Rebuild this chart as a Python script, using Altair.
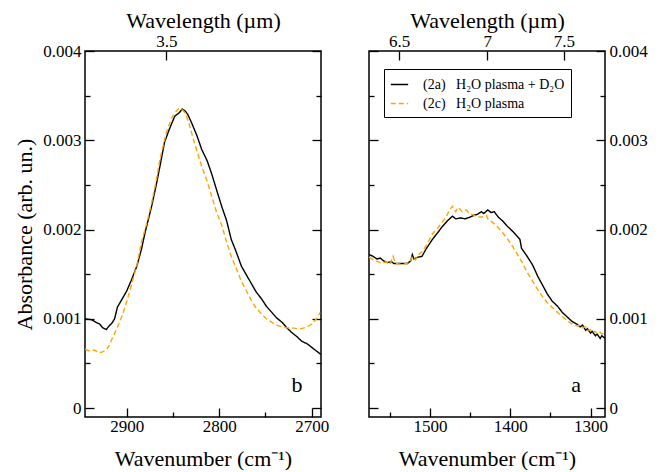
import altair as alt
import pandas as pd

FONT = "Liberation Serif"
SER_A = "(2a)\u00a0\u00a0\u00a0H\u2082O plasma + D\u2082O"
SER_C = "(2c)\u00a0\u00a0\u00a0H\u2082O plasma"

# ---- left panel (b) ----
left_wn_a = [2945, 2938, 2933, 2929, 2926, 2922, 2919, 2916, 2913, 2910, 2905, 2900, 2895, 2889,
             2884, 2880, 2873, 2868, 2864, 2859, 2854, 2848, 2843, 2840, 2837, 2834, 2830, 2824,
             2819, 2813, 2808, 2803, 2797, 2792, 2787, 2782, 2776, 2770, 2765, 2760, 2754, 2749,
             2743, 2738, 2732, 2727, 2722, 2716, 2711, 2705, 2700, 2695, 2690]
left_abs_a = [0.00100, 0.00099, 0.00096, 0.00094, 0.00090, 0.00088, 0.00092, 0.00095, 0.00100,
              0.00113, 0.00122, 0.00131, 0.00143, 0.00159, 0.00178, 0.00197, 0.00226, 0.00250,
              0.00271, 0.00298, 0.00312, 0.00327, 0.00331, 0.00335, 0.00333, 0.00329, 0.00320,
              0.00305, 0.00290, 0.00277, 0.00262, 0.00245, 0.00225, 0.00210, 0.00189, 0.00176,
              0.00159, 0.00148, 0.00139, 0.00130, 0.00122, 0.00114, 0.00107, 0.00101, 0.00096,
              0.00090, 0.00085, 0.00080, 0.00075, 0.00072, 0.00068, 0.00064, 0.00060]
left_wn_c = [2945, 2940, 2935, 2930, 2926, 2922, 2919, 2916, 2911, 2905, 2900, 2895, 2889, 2884,
             2878, 2873, 2868, 2864, 2857, 2851, 2846, 2843, 2840, 2837, 2833, 2827, 2819, 2813,
             2808, 2803, 2797, 2792, 2787, 2781, 2776, 2770, 2765, 2760, 2754, 2749, 2743, 2738,
             2732, 2727, 2722, 2716, 2711, 2705, 2700, 2695, 2691]
left_abs_c = [0.00066, 0.00064, 0.00065, 0.00062, 0.00063, 0.00065, 0.00070, 0.00077, 0.00088,
              0.00103, 0.00119, 0.00137, 0.00160, 0.00186, 0.00208, 0.00230, 0.00255, 0.00279,
              0.00309, 0.00326, 0.00333, 0.00336, 0.00334, 0.00331, 0.00320, 0.00298, 0.00271,
              0.00254, 0.00237, 0.00220, 0.00204, 0.00186, 0.00170, 0.00155, 0.00142, 0.00130,
              0.00120, 0.00112, 0.00105, 0.00100, 0.00096, 0.00093, 0.00091, 0.00090, 0.00090,
              0.00089, 0.00089, 0.00091, 0.00094, 0.00100, 0.00107]

# ---- right panel (a) ----
right_wn_a = [1576, 1571, 1566, 1562, 1558, 1553, 1548, 1545, 1541, 1528, 1524, 1522, 1520, 1515,
              1510, 1505, 1497, 1490, 1485, 1478, 1472, 1468, 1462, 1456, 1450, 1445, 1441, 1436,
              1433, 1428, 1424, 1420, 1415, 1410, 1404, 1397, 1392, 1388, 1386, 1379, 1372, 1366,
              1360, 1354, 1348, 1341, 1335, 1329, 1323, 1317, 1313, 1310, 1306, 1304, 1300, 1298,
              1294, 1292, 1288, 1286, 1282]
right_abs_a = [0.00172, 0.00170, 0.00167, 0.00168, 0.00165, 0.00163, 0.00164, 0.00162, 0.00162,
               0.00162, 0.00165, 0.00172, 0.00167, 0.00169, 0.00170, 0.00178, 0.00189, 0.00197,
               0.00203, 0.00210, 0.00215, 0.00212, 0.00213, 0.00212, 0.00214, 0.00216, 0.00217,
               0.00220, 0.00218, 0.00222, 0.00219, 0.00220, 0.00214, 0.00210, 0.00204, 0.00198,
               0.00193, 0.00189, 0.00179, 0.00170, 0.00160, 0.00148, 0.00138, 0.00128, 0.00120,
               0.00114, 0.00107, 0.00102, 0.00097, 0.00094, 0.00091, 0.00093, 0.00087, 0.00089,
               0.00084, 0.00086, 0.00081, 0.00083, 0.00078, 0.00081, 0.00078]
right_wn_c = [1576, 1570, 1565, 1560, 1555, 1550, 1546, 1543, 1534, 1525, 1522, 1518, 1514, 1510,
              1504, 1497, 1490, 1485, 1480, 1475, 1472, 1468, 1465, 1460, 1455, 1450, 1447, 1441,
              1435, 1430, 1428, 1422, 1416, 1410, 1404, 1397, 1391, 1385, 1379, 1372, 1366, 1360,
              1354, 1348, 1341, 1335, 1329, 1323, 1316, 1312, 1310, 1306, 1304, 1300, 1298, 1294,
              1292, 1288, 1286, 1282]
right_abs_c = [0.00169, 0.00166, 0.00164, 0.00162, 0.00164, 0.00161, 0.00170, 0.00162, 0.00161,
               0.00163, 0.00170, 0.00166, 0.00172, 0.00175, 0.00183, 0.00195, 0.00202, 0.00208,
               0.00214, 0.00223, 0.00226, 0.00220, 0.00225, 0.00220, 0.00222, 0.00217, 0.00217,
               0.00214, 0.00214, 0.00216, 0.00212, 0.00208, 0.00203, 0.00197, 0.00190, 0.00181,
               0.00172, 0.00163, 0.00152, 0.00142, 0.00133, 0.00125, 0.00118, 0.00113, 0.00107,
               0.00102, 0.00098, 0.00094, 0.00092, 0.00093, 0.00090, 0.00091, 0.00087, 0.00088,
               0.00085, 0.00086, 0.00083, 0.00085, 0.00083, 0.00084]

y_major = [0, 0.001, 0.002, 0.003, 0.004]
y_minor = [0.0005, 0.0015, 0.0025, 0.0035]
y_domain = [-0.0001, 0.004]
left_x_major = [2900, 2800, 2700]
left_x_minor = [2850, 2750]
right_x_major = [1500, 1400, 1300]
right_x_minor = [1550, 1450, 1350]
left_wl = [3.5]
right_wl = [6.5, 7.0, 7.5]
left_domain = [2690, 2945]
right_domain = [1282, 1576]
panel_tags = ["b", "a"]
tag_wn = [2716, 1318]
tag_abs = [0.00018, 0.00018]

W, H = 236, 366


def tsz(n):
    return alt.ExprRef(expr=str(-n))


def series_df(wa, ya, wc, yc):
    return pd.concat([
        pd.DataFrame({"wn": wa, "abs": ya, "series": SER_A}),
        pd.DataFrame({"wn": wc, "abs": yc, "series": SER_C}),
    ], ignore_index=True)


legend = alt.Legend(orient="none", legendX=299, legendY=18, title=None,
                    strokeColor="black", fillColor="white", padding=6, rowPadding=2,
                    labelFont=FONT, labelFontSize=14, labelColor="black", labelLimit=0,
                    symbolType="stroke", symbolSize=300, symbolStrokeWidth=1.5,
                    labelOffset=14)


def panel(df, dom, xmaj, xmin, wl, tag_x, tag_y, tag, left):
    xs = alt.Scale(domain=dom, reverse=True, nice=False, zero=False)
    ys = alt.Scale(domain=y_domain, nice=False, zero=False)
    side_main = "left" if left else "right"
    side_other = "right" if left else "left"
    wl_pos = [10000.0 / w for w in wl]
    base = alt.Chart(df)

    lines = base.mark_line(strokeWidth=1.4, clip=True).encode(
        x=alt.X("wn:Q", scale=xs, title="Wavenumber (cm\u207b\u00b9)",
                axis=alt.Axis(orient="bottom", values=xmaj, format="d", tickSize=tsz(9),
                              labelPadding=10, titlePadding=14)),
        y=alt.Y("abs:Q", scale=ys, title="Absorbance (arb. un.)" if left else None,
                axis=alt.Axis(orient=side_main, values=y_major, format=".3~f",
                              tickSize=tsz(9), labelPadding=13, titlePadding=6)),
        color=alt.Color("series:N", scale=alt.Scale(domain=[SER_A, SER_C], range=["black", "#FFA500"]),
                        legend=legend),
        strokeDash=alt.StrokeDash("series:N", scale=alt.Scale(domain=[SER_A, SER_C], range=[[1, 0], [5, 3]]),
                                  legend=legend),
    )
    minor = base.mark_line(opacity=0).encode(
        x=alt.X("wn:Q", scale=xs, title=None,
                axis=alt.Axis(orient="bottom", values=xmin, labels=False, tickSize=tsz(5))),
        y=alt.Y("abs:Q", scale=ys, title=None,
                axis=alt.Axis(orient=side_main, values=y_minor, labels=False, tickSize=tsz(5))),
    )
    top = base.mark_line(opacity=0).encode(
        x=alt.X("wn:Q", scale=xs, title="Wavelength (\u00b5m)",
                axis=alt.Axis(orient="top", values=wl_pos, tickSize=tsz(9), labelPadding=10,
                              labelExpr="format(10000/datum.value, '.2~g')", titlePadding=0)),
        y=alt.Y("abs:Q", scale=ys, title=None,
                axis=alt.Axis(orient=side_other, values=y_major, labels=False, tickSize=tsz(9))),
    )
    other_minor = base.mark_line(opacity=0).encode(
        x=alt.X("wn:Q", scale=xs, axis=None),
        y=alt.Y("abs:Q", scale=ys, title=None,
                axis=alt.Axis(orient=side_other, values=y_minor, labels=False, tickSize=tsz(5))),
    )
    tag_df = pd.DataFrame({"wn": [tag_x], "abs": [tag_y], "tag": [tag]})
    tag_layer = alt.Chart(tag_df).mark_text(font=FONT, fontSize=22, color="black",
                                            baseline="alphabetic", align="center").encode(
        x=alt.X("wn:Q", scale=xs, axis=None),
        y=alt.Y("abs:Q", scale=ys, axis=None),
        text="tag:N",
    )
    return alt.layer(lines, minor, top, other_minor, tag_layer).resolve_axis(
        x="independent", y="independent").properties(width=W, height=H)


left_panel = panel(series_df(left_wn_a, left_abs_a, left_wn_c, left_abs_c), left_domain,
                   left_x_major, left_x_minor, left_wl, tag_wn[0], tag_abs[0], panel_tags[0], True)
right_panel = panel(series_df(right_wn_a, right_abs_a, right_wn_c, right_abs_c), right_domain,
                    right_x_major, right_x_minor, right_wl, tag_wn[1], tag_abs[1], panel_tags[1], False)

chart = alt.hconcat(left_panel, right_panel, spacing=37).properties(
    padding={"left": 5, "top": 0, "right": 5, "bottom": 0}
).configure_view(
    stroke="black", strokeWidth=1.5
).configure_axis(
    labelFont=FONT, titleFont=FONT, labelFontSize=17, titleFontSize=22,
    labelColor="black", titleColor="black", tickColor="black", tickWidth=1.3,
    titleFontWeight="normal", grid=False, domain=False
)

chart.save("out.html", embed_options={"renderer": "svg", "actions": False})
